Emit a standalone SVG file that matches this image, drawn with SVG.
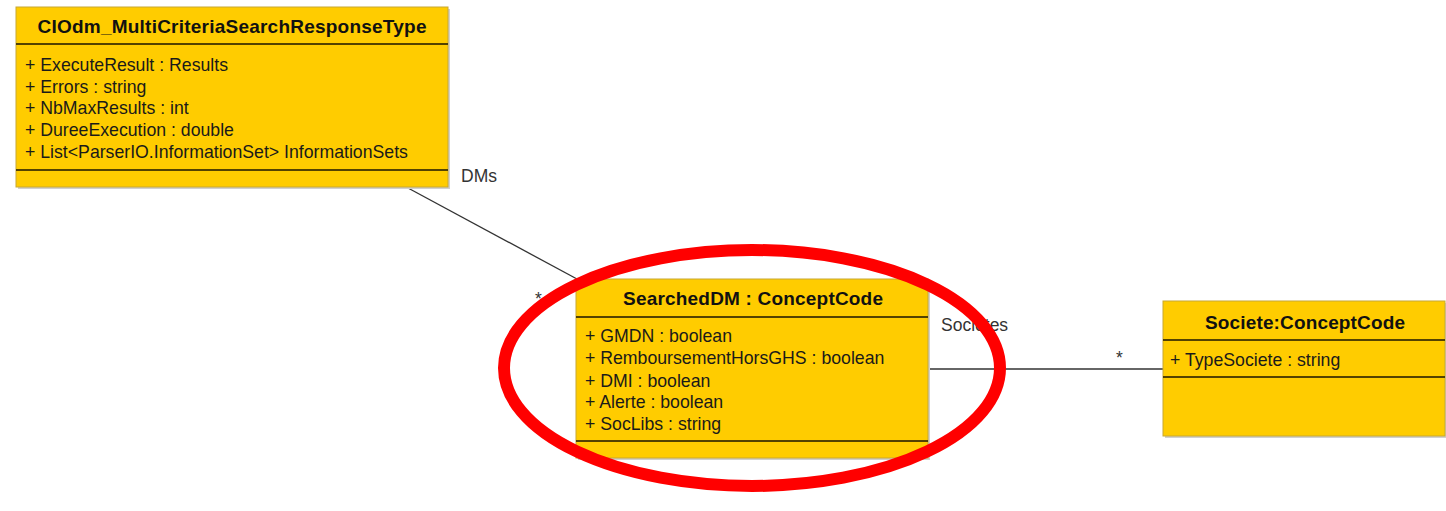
<svg xmlns="http://www.w3.org/2000/svg" width="1446" height="511" viewBox="0 0 1446 511">
<defs>
<style>
.box{fill:#FFCC00;stroke:#C8A832;stroke-width:1}
.shadow{fill:#d0d0d0}
.sep{stroke:#1a1400;stroke-width:1.5}
.title{font-family:"Liberation Sans",Arial,sans-serif;font-weight:bold;font-size:19px;fill:#111;text-anchor:middle}
.attr{font-family:"Liberation Sans",Arial,sans-serif;font-size:17.7px;fill:#1a1a1a}
.lbl{font-family:"Liberation Sans",Arial,sans-serif;font-size:17.5px;fill:#333}
.conn{stroke:#333;stroke-width:1.3;fill:none}
</style>
</defs>
<rect width="1446" height="511" fill="#ffffff"/>
<g id="connectors">
<line class="conn" x1="408" y1="188" x2="577" y2="279"/>
<line class="conn" x1="928" y1="369" x2="1163" y2="369"/>
<text class="lbl" x="461" y="182">DMs</text>
<text class="lbl" x="535" y="305">*</text>
<text class="lbl" x="941" y="331">Societes</text>
<text class="lbl" x="1116" y="364">*</text>
</g>
<g id="node-response">
<rect class="shadow" x="18" y="9" width="432" height="180"/>
<rect class="box" x="16" y="7" width="432" height="180"/>
<line class="sep" x1="16" y1="44" x2="448" y2="44"/>
<line class="sep" x1="16" y1="170" x2="448" y2="170"/>
<text class="title" x="232" y="33" textLength="389" lengthAdjust="spacing">CIOdm_MultiCriteriaSearchResponseType</text>
<text class="attr" x="25" y="71">+ ExecuteResult : Results</text>
<text class="attr" x="25" y="93">+ Errors : string</text>
<text class="attr" x="25" y="114">+ NbMaxResults : int</text>
<text class="attr" x="25" y="136">+ DureeExecution : double</text>
<text class="attr" x="25" y="158">+ List&lt;ParserIO.InformationSet&gt; InformationSets</text>
</g>
<g id="node-searcheddm">
<rect class="shadow" x="578" y="281" width="352" height="179"/>
<rect class="box" x="576" y="279" width="352" height="179"/>
<line class="sep" x1="576" y1="317" x2="928" y2="317"/>
<line class="sep" x1="576" y1="441" x2="928" y2="441"/>
<text class="title" x="753" y="305" textLength="260" lengthAdjust="spacing">SearchedDM : ConceptCode</text>
<text class="attr" x="585" y="342">+ GMDN : boolean</text>
<text class="attr" x="585" y="364">+ RemboursementHorsGHS : boolean</text>
<text class="attr" x="585" y="387">+ DMI : boolean</text>
<text class="attr" x="585" y="408">+ Alerte : boolean</text>
<text class="attr" x="585" y="430">+ SocLibs : string</text>
</g>
<g id="node-societe">
<rect class="shadow" x="1165" y="303" width="281" height="135"/>
<rect class="box" x="1163" y="301" width="282" height="135"/>
<line class="sep" x1="1163" y1="340" x2="1445" y2="340"/>
<line class="sep" x1="1163" y1="377" x2="1445" y2="377"/>
<text class="title" x="1305" y="329" textLength="200" lengthAdjust="spacing">Societe:ConceptCode</text>
<text class="attr" x="1170" y="366">+ TypeSociete : string</text>
</g>
<ellipse id="highlight" cx="752" cy="368" rx="248" ry="118" fill="none" stroke="#ff0000" stroke-width="12"/>
</svg>
